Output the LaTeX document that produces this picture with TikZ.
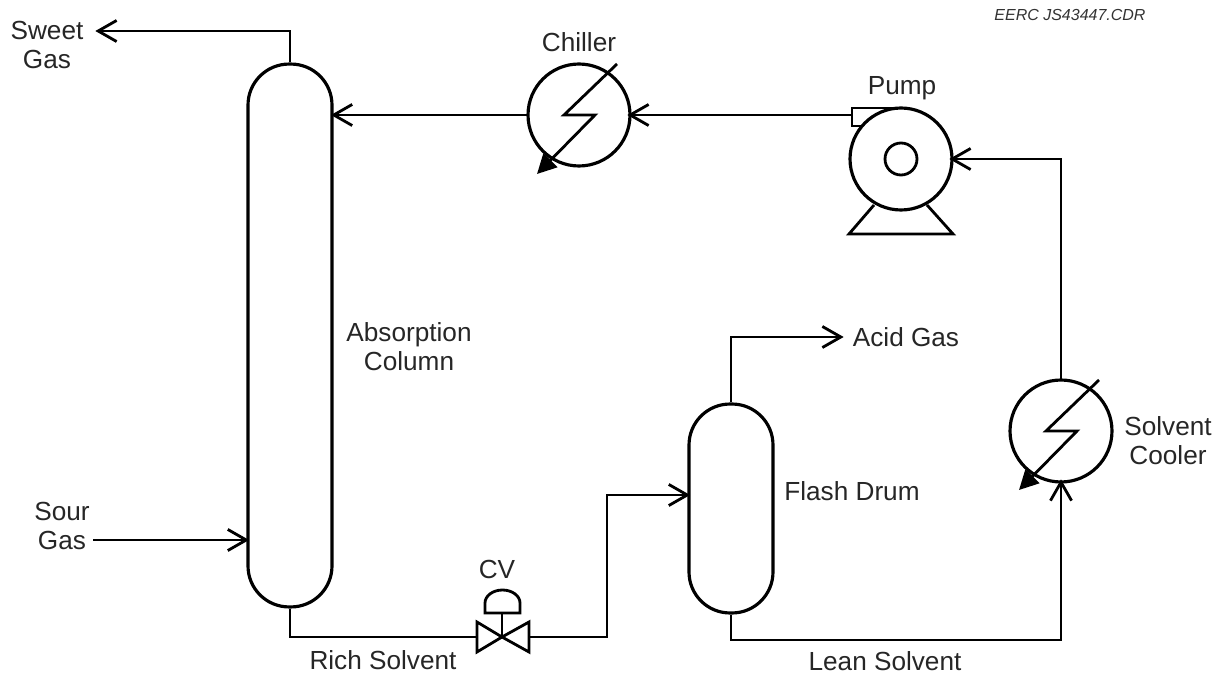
\documentclass[tikz,border=0pt]{standalone}
\usepackage{fontspec}
\setmainfont{Liberation Sans}
\usetikzlibrary{arrows.meta,positioning,calc}
\tikzset{
  vessel/.style={draw, line width=1.8pt, rounded corners=0.82cm, minimum width=1.68cm},
  exch/.style={draw, circle, line width=1.8pt, minimum size=2.04cm, inner sep=0pt, outer sep=0pt},
  pipe/.style={line width=1.6pt, shorten >=-1.5pt, -{Straight Barb[length=10.5pt,width=12pt]}},
  plainpipe/.style={line width=1.6pt},
  bolt/.style={line width=1.6pt, -{Triangle[length=11pt,width=11pt]}},
  lbl/.style={font=\fontsize{14.9pt}{16.6pt}\selectfont, align=center, text=black!85, inner sep=0pt}
}
\begin{document}
\begin{tikzpicture}[x=0.02cm,y=-0.02cm]
  \useasboundingbox (0,0) rectangle (1224,675);

  %--- vessels ---
  \node[vessel, minimum height=10.86cm] (column) at (290,335.5) {};
  \node[vessel, minimum height=4.18cm] (drum) at (731,508.5) {};

  % Chiller
  \node[exch] (chiller) at (579,115) {};
  \draw[bolt] (617,64) -- (564,115) -- (595,115) -- (537,174);

  % Solvent cooler
  \node[exch] (cooler) at (1061,431) {};
  \draw[bolt] (1099,380) -- (1046,431) -- (1077,431) -- (1019,490);

  % Pump
  \node[exch] (pump) at (901,159) {};
  \node[draw, circle, line width=1.6pt, minimum size=0.64cm, inner sep=0pt] (impeller) at (901,159) {};
  \draw[plainpipe] (862,126) -- (852,126) -- (852,108) -- (901,108);
  \draw[plainpipe, line join=miter] (874,205) -- (849,234) -- (953,234) -- (927,205);
  \coordinate (pumpout) at (852,115);

  % Control valve
  \coordinate (cv) at (502,637);
  \coordinate (cvin) at (477,637);
  \coordinate (cvout) at (529,637);
  \draw[plainpipe, line join=miter] (cv) -- (477,622) -- (477,652) -- cycle;
  \draw[plainpipe, line join=miter] (cv) -- (529,622) -- (529,652) -- cycle;
  \draw[plainpipe] (cv) -- (502,613);
  \draw[plainpipe] (485,613) -- (520,613) -- (520,603) arc (0:-180:17.5 and 13) -- cycle;

  %--- free line ends ---
  \coordinate (sweet) at (98,31);
  \coordinate (sour) at (93,540);
  \coordinate (acid) at (841,337);

  %--- lines ---
  \draw[pipe] (column.north) |- (sweet);
  \draw[pipe] (sour) -- (sour -| column.west);
  \draw[pipe] (chiller.west) -- (column.east |- chiller.west);
  \draw[pipe] (pumpout) -- (chiller.east);
  \draw[pipe] (cooler.north) |- (pump.east);
  \draw[pipe] (drum.north) |- (acid);
  \draw[plainpipe] (column.south) |- (cvin);
  \draw[pipe] (cvout) -| (607,495) -- (drum.west |- 0,495);
  \draw[pipe] (drum.south) -- (731,640) -| (cooler.south);

  %--- labels ---
  \node[lbl] (sweetlbl) at (47,45) {Sweet\\Gas};
  \node[lbl] (sourlbl) at (62,526) {Sour\\Gas};
  \node[lbl] (columnlbl) at (409,347) {Absorption\\Column};
  \node[lbl] (chillerlbl) at (579,42) {Chiller};
  \node[lbl] (pumplbl) at (902,88) {Pump};
  \node[lbl] (acidlbl) at (906,337) {Acid Gas};
  \node[lbl] (drumlbl) at (852,491) {Flash Drum};
  \node[lbl] (coolerlbl) at (1168,441) {Solvent\\Cooler};
  \node[lbl] (cvlbl) at (497,569) {CV};
  \node[lbl] (richlbl) at (383,660) {Rich Solvent};
  \node[lbl] (leanlbl) at (885,661) {Lean Solvent};
  \node[font=\fontsize{9.1pt}{11pt}\selectfont\itshape, text=black!80, inner sep=0pt] (reflbl) at (1070,15) {EERC JS43447.CDR};
\end{tikzpicture}
\end{document}
